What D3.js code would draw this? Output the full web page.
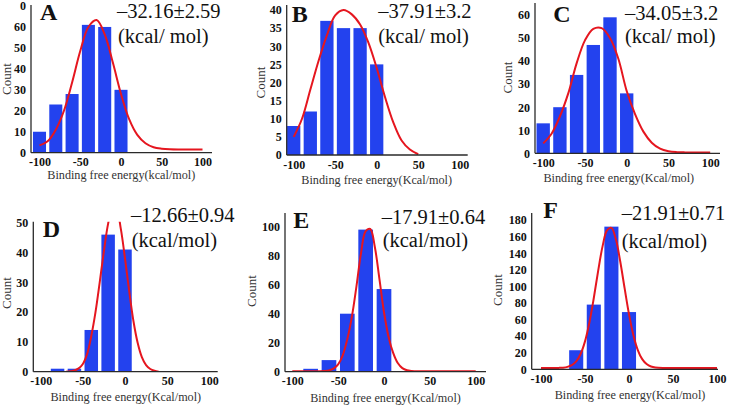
<!DOCTYPE html>
<html><head><meta charset="utf-8">
<script src="https://cdn.jsdelivr.net/npm/d3@7"></script>
<style>html,body{margin:0;padding:0;background:#fff;} svg, svg text{font-family:'Liberation Serif','Times New Roman',Times,Tinos,'DejaVu Serif',serif !important;}</style>
</head><body><svg id="c" width="729" height="407"></svg>
<script>
// ---------- data ----------
const binCenters = [-100, -80, -60, -40, -20, 0];
const countsA = [10, 23, 28, 61, 60, 30];
const countsB = [8, 12, 37, 35, 35, 25];
const countsC = [13, 20, 34, 47, 59, 26];
const countsD = [0, 1, 1, 14, 46, 41];
const countsE = [0, 2, 8, 40, 98, 57];
const countsF = [0, 0, 23, 78, 172, 69];

const curveA = [[-100,3.5],[-90,5.5],[-80,11],[-70,20],[-60,33.5],[-50,48.5],[-40,60],[-30,63.3],[-20,56.5],[-10,43],[0,28],[10,16],[20,8.5],[30,4.5],[40,2.6],[50,1.9],[60,1.6],[70,1.5],[80,1.5],[90,1.5],[100,1.5]];
const curveB = [[-100,5],[-90,10],[-80,18],[-70,26],[-60,33],[-50,38.5],[-40,40],[-30,38.8],[-20,36],[-10,31],[0,24],[10,16],[20,9],[30,4],[40,1.5],[50,0.2]];
const curveC = [[-100,4.3],[-90,8.5],[-80,16],[-70,26],[-60,39],[-50,49],[-40,54],[-30,54.3],[-20,50],[-10,41],[0,27],[10,17],[20,9.4],[30,4.6],[40,2],[50,0.9],[60,0.5],[70,0.4],[80,0.4],[90,0.4],[100,0.4]];
const curveD = [[-70,0],[-65,0.15],[-60,0.4],[-55,1.1],[-50,2.6],[-45,5.9],[-40,12],[-35,20],[-30,30],[-25,40.5],[-20,49.7],[-15,54.9],[-10,54.3],[-5,48],[0,38],[5,27],[10,17],[15,9.7],[20,4.9],[25,2.2],[30,0.9],[35,0.3],[40,0]];
const curveE = [[-100,0.3],[-90,0.3],[-80,0.3],[-70,0.35],[-65,0.5],[-60,0.9],[-55,2.1],[-50,5],[-45,11.3],[-40,22.5],[-35,38],[-30,59],[-25,82],[-20,97],[-15,98.4],[-10,86],[-5,64],[0,41],[5,24],[10,13],[15,6],[20,2.5],[25,1],[30,0.5],[40,0.3],[50,0.3],[60,0.3],[70,0.3],[80,0.3],[90,0.3],[100,0.3]];
const curveF = [[-100,1.5],[-90,1.5],[-80,1.7],[-75,2],[-70,2.9],[-65,5],[-60,9.6],[-55,18.5],[-50,33.7],[-45,56.5],[-40,86],[-35,119],[-30,148.5],[-25,167.5],[-20,170.5],[-15,157],[-10,130.3],[-5,97.8],[0,66.5],[5,41],[10,23.2],[15,12.2],[20,6.3],[25,3.4],[30,2.2],[40,1.6],[50,1.5],[60,1.5],[70,1.5],[80,1.5],[90,1.5],[100,1.5]];

const xTicks = [-100, -50, 0, 50, 100];
const xTickLabels = ["-100", "-50", "0", "50", "100"];
const yTicksA = [0,10,20,30,40,50,60,70];
const yTickLabelsA = ["0","10","20","30","40","50","60","0"];
const yTicksB = [0,5,10,15,20,25,30,35,40];
const yTicksC = [0,10,20,30,40,50,60];
const yTicksD = [0,10,20,30,40,50];
const yTicksE = [0,20,40,60,80,100];
const yTicksF = [0,20,40,60,80,100,120,140,160,180];

const panelLetters = ["A","B","C","D","E","F"];
const meanLabels = ["\u201332.16\u00b12.59","\u201337.91\u00b13.2","\u201334.05\u00b13.2","\u201312.66\u00b10.94","\u201317.91\u00b10.64","\u201321.91\u00b10.71"];
const unitLabels = ["(kcal/ mol)","(kcal/ mol)","(kcal/ mol)","(kcal/mol)","(kcal/mol)","(kcal/mol)"];
const xTitles = ["Binding free energy(kcal/mol)","Binding free energy(Kcal/mol)","Binding free energy(Kcal/mol)","Binding free energy(Kcal/mol)","Binding free energy(Kcal/mol)","Binding free energy(Kcal/mol)"];
const yTitle = "Count";

// ---------- layout ----------
const layout = [
  {axisX:31,    xr:[39.5,202.5], xEnd:212,   base:152.7, ytop:6,     ymax:70,  axisTop:5,
   letter:[40,20], mean:[117,18.3], unit:[118,43.3], xt:[121.3,178.3], yt:[6,79]},
  {axisX:286.7, xr:[293.7,459.7], xEnd:467.7, base:155,  ytop:10,    ymax:40,  axisTop:5,
   letter:[291.7,21.7], mean:[378.3,18.3], unit:[378.3,43.3], xt:[376.7,183.3], yt:[260.5,82.5]},
  {axisX:535,   xr:[543.2,710.2], xEnd:720,   base:153.3, ytop:15,    ymax:60,  axisTop:3,
   letter:[553.3,21.7], mean:[625,19.5], unit:[625,43.3], xt:[618.8,181.7], yt:[507.5,77.5]},
  {axisX:33.3,  xr:[40.7,209.3], xEnd:217.7, base:371.7, ytop:222.7, ymax:50,  axisTop:221.7,
   letter:[42.7,237.3], mean:[131,221.7], unit:[131.7,246.7], xt:[125.8,400], yt:[6.5,293]},
  {axisX:285,   xr:[292.3,475.7], xEnd:486,   base:371.7, ytop:226.7, ymax:100, axisTop:213,
   letter:[293.3,228.3], mean:[381.7,224], unit:[382.7,246.7], xt:[385.5,401.7], yt:[251,291]},
  {axisX:531.7, xr:[541,717],     xEnd:718,   base:369.3, ytop:220,   ymax:180, axisTop:213,
   letter:[543.3,218.3], mean:[621.7,220], unit:[621.7,248.3], xt:[630,398.3], yt:[497,290]}
];

const counts = [countsA,countsB,countsC,countsD,countsE,countsF];
const curves = [curveA,curveB,curveC,curveD,curveE,curveF];
const yTicks = [yTicksA,yTicksB,yTicksC,yTicksD,yTicksE,yTicksF];
const yLabels = [yTickLabelsA, null, null, null, null, null];

const svg = d3.select("#c");
const barColor = "#2342ee", lineColor = "#e5161f", axisColor = "#2a2a2a";

layout.forEach((L, i) => {
  const g = svg.append("g");
  const x = d3.scaleLinear().domain([-100, 100]).range(L.xr);
  const y = d3.scaleLinear().domain([0, L.ymax]).range([L.base, L.ytop]);

  const clipId = "clip" + i;
  svg.append("clipPath").attr("id", clipId).append("rect")
    .attr("x", L.axisX).attr("y", L.axisTop).attr("width", L.xEnd - L.axisX).attr("height", L.base - L.axisTop);

  const bars = binCenters.map((c, j) => ({c, v: counts[i][j]})).filter(d => d.v > 0);
  g.append("g").selectAll("rect").data(bars).join("rect")
    .attr("x", d => x(d.c - 8)).attr("width", d => x(d.c + 8) - x(d.c - 8))
    .attr("y", d => y(d.v)).attr("height", d => y(0) - y(d.v))
    .attr("fill", barColor);

  const line = d3.line().x(d => x(d[0])).y(d => y(d[1])).curve(d3.curveCatmullRom.alpha(0.5));
  g.append("path").datum(curves[i]).attr("d", line)
    .attr("fill", "none").attr("stroke", lineColor).attr("stroke-width", 2)
    .attr("clip-path", `url(#${clipId})`);

  g.append("line").attr("x1", L.axisX).attr("x2", L.axisX).attr("y1", L.axisTop).attr("y2", L.base)
    .attr("stroke", axisColor).attr("stroke-width", 1.3);
  g.append("line").attr("x1", L.axisX).attr("x2", L.xEnd).attr("y1", L.base).attr("y2", L.base)
    .attr("stroke", axisColor).attr("stroke-width", 1.3);

  const yl = yLabels[i];
  const ya = g.append("g").attr("transform", `translate(${L.axisX},0)`)
    .call(d3.axisLeft(y).tickValues(yTicks[i]).tickSize(0).tickPadding(5)
      .tickFormat((d, k) => yl ? yl[k] : String(d)));
  ya.select(".domain").remove();
  ya.attr("font-family", null).attr("font-size", null);
  ya.selectAll("text").attr("font-size", 12).attr("font-weight", "bold").attr("fill", "#111");

  const xa = g.append("g").attr("transform", `translate(0,${L.base})`)
    .call(d3.axisBottom(x).tickValues(xTicks).tickSize(0).tickPadding(5)
      .tickFormat((d, k) => xTickLabels[k]));
  xa.select(".domain").remove();
  xa.attr("font-family", null).attr("font-size", null);
  xa.selectAll("text").attr("font-size", 12).attr("font-weight", "bold").attr("fill", "#111");

  g.append("text").attr("x", L.xt[0]).attr("y", L.xt[1] + 0.5).attr("text-anchor", "middle")
    .attr("font-size", 12.2).attr("fill", "#333").text(xTitles[i]);
  g.append("text").attr("transform", `translate(${L.yt[0]},${L.yt[1]}) rotate(-90)`)
    .attr("text-anchor", "middle").attr("dy", "0.35em")
    .attr("font-size", 13).attr("fill", "#333").text(yTitle);

  g.append("text").attr("x", L.letter[0]).attr("y", L.letter[1])
    .attr("font-size", 24).attr("font-weight", "bold").attr("fill", "#111").text(panelLetters[i]);

  g.append("text").attr("x", L.mean[0]).attr("y", L.mean[1])
    .attr("font-size", 20.5).attr("fill", "#111").text(meanLabels[i]);
  g.append("text").attr("x", L.unit[0]).attr("y", L.unit[1])
    .attr("font-size", 20.5).attr("fill", "#111").text(unitLabels[i]);
});
</script>
</body></html>
